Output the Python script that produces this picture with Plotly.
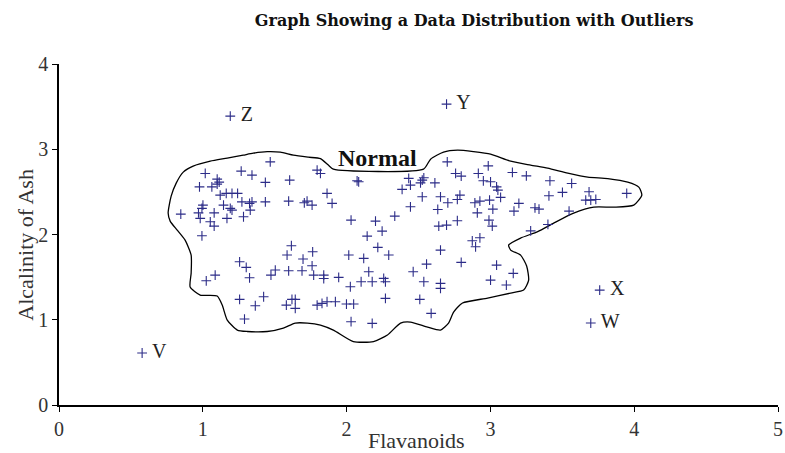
import plotly.graph_objects as go

# ---- data (Flavanoids vs Alcalinity of Ash) ----
flav = [1.469,1.017,1.100,1.114,1.100,1.267,1.342,1.435,1.604,1.795,1.818,2.073,0.977,1.063,
        1.121,1.163,1.203,1.242,1.864,1.272,1.325,1.342,1.435,1.597,1.706,1.725,1.760,1.899,
        1.001,0.994,1.144,1.191,1.203,1.330,0.847,0.970,1.079,0.982,1.168,1.283,1.052,1.079,
        2.031,0.994,1.616,1.586,1.764,1.697,2.015,1.256,1.302,1.760,1.504,1.474,1.597,1.690,
        1.771,1.841,1.841,1.945,1.024,1.086,1.325,2.026,1.256,1.365,1.423,1.581,1.620,1.643,
        1.643,1.795,1.829,1.864,1.922,1.999,2.049,1.290,2.031,
        2.700,2.985,2.084,2.432,2.444,2.386,2.526,2.537,2.514,2.614,2.758,2.797,2.916,2.951,
        3.001,3.043,3.052,3.071,3.153,3.250,3.414,3.565,3.407,3.501,3.686,3.663,3.698,3.733,
        3.948,2.526,2.653,2.704,2.770,2.788,2.444,2.634,2.892,2.927,2.994,2.909,3.017,3.164,
        3.198,3.310,3.338,3.547,2.335,2.201,2.641,2.695,2.770,2.990,3.013,3.400,3.280,2.143,
        2.247,2.874,2.927,2.897,2.217,2.653,2.119,2.293,2.556,2.797,3.043,2.463,2.154,2.101,
        2.178,2.258,2.270,2.537,2.653,2.653,3.001,3.111,3.159,2.270,2.509,2.588,2.178]
ash = [2.852,2.716,2.650,2.614,2.591,2.743,2.696,2.611,2.638,2.755,2.716,2.630,2.559,2.559,
       2.462,2.482,2.482,2.482,2.482,2.383,2.365,2.383,2.383,2.392,2.372,2.392,2.345,2.365,
       2.345,2.306,2.345,2.306,2.286,2.286,2.239,2.254,2.254,2.189,2.189,2.208,2.149,2.098,
       2.169,1.985,1.868,1.759,1.797,1.712,1.759,1.680,1.614,1.633,1.583,1.524,1.574,1.574,
       1.524,1.524,1.483,1.497,1.457,1.524,1.492,1.387,1.239,1.164,1.270,1.172,1.239,1.239,
       1.134,1.172,1.192,1.211,1.211,1.184,1.184,1.008,0.977,
       2.852,2.805,2.618,2.658,2.579,2.529,2.638,2.665,2.606,2.606,2.716,2.685,2.716,2.630,
       2.618,2.559,2.521,2.435,2.728,2.688,2.630,2.599,2.454,2.494,2.501,2.403,2.403,2.411,
       2.482,2.442,2.442,2.372,2.411,2.462,2.325,2.294,2.372,2.392,2.403,2.254,2.298,2.274,
       2.365,2.313,2.298,2.274,2.216,2.157,2.098,2.110,2.161,2.169,2.098,2.118,2.043,1.981,
       2.040,1.926,1.961,1.856,1.849,1.817,1.720,1.759,1.653,1.673,1.641,1.563,1.563,1.446,
       1.446,1.485,1.446,1.446,1.427,1.368,1.465,1.407,1.544,1.251,1.239,1.075,0.958]

outlier_names = ["V", "Z", "Y", "X", "W"]
outlier_flav = [0.578, 1.191, 2.695, 3.760, 3.698]
outlier_ash = [0.610, 3.388, 3.529, 1.348, 0.961]

# outline of the "Normal" region (data units)
region_x = [0.759,0.780,0.815,0.864,0.933,1.052,1.170,1.281,1.351,1.448,1.539,1.630,1.734,1.818,
            1.873,1.908,2.535,2.584,2.674,2.772,2.883,3.001,3.141,3.280,3.398,3.538,3.677,3.816,
            3.955,4.032,4.053,3.997,3.858,3.719,3.579,3.440,3.329,3.210,3.127,3.141,3.210,3.252,
            3.266,3.231,3.141,2.981,2.806,2.744,2.709,2.653,2.563,2.444,2.375,2.284,2.187,2.047,
            1.908,1.818,1.727,1.643,1.560,1.448,1.309,1.240,1.170,1.135,1.100,0.982,0.912,0.919,
            0.919,0.877,0.822,0.773,0.759]
region_y = [2.251,2.450,2.603,2.732,2.802,2.860,2.896,2.931,2.954,2.972,2.966,2.931,2.907,2.890,
            2.814,2.767,2.767,2.884,2.966,2.989,2.972,2.943,2.860,2.814,2.778,2.720,2.673,2.655,
            2.614,2.556,2.462,2.345,2.321,2.321,2.251,2.134,2.034,1.958,1.876,1.817,1.758,1.630,
            1.465,1.348,1.313,1.254,1.196,1.090,0.961,0.879,0.914,0.973,0.961,0.821,0.744,0.744,
            0.879,0.938,0.961,0.961,0.903,0.862,0.862,0.879,0.996,1.172,1.278,1.290,1.383,1.547,
            1.758,1.934,2.052,2.157,2.251]

x_ticks = [0, 1, 2, 3, 4, 5]
y_ticks = [0, 1, 2, 3, 4]

SERIF = "Liberation Serif, Times New Roman, serif"
PT_COLOR = "#2c2c88"

fig = go.Figure()
fig.add_trace(go.Scatter(x=region_x, y=region_y, mode="lines",
                         line=dict(color="black", width=1.3, shape="spline", smoothing=0.6),
                         hoverinfo="skip", showlegend=False))
fig.add_trace(go.Scatter(x=flav, y=ash, mode="markers",
                         marker=dict(symbol="cross-thin", size=7,
                                     line=dict(color=PT_COLOR, width=1.1)),
                         showlegend=False))
fig.add_trace(go.Scatter(x=outlier_flav, y=outlier_ash, mode="markers+text",
                         text=outlier_names, texttemplate=" %{text}",
                         textposition="middle right",
                         textfont=dict(family=SERIF, size=20, color="#222"),
                         marker=dict(symbol="cross-thin", size=7,
                                     line=dict(color=PT_COLOR, width=1.1)),
                         showlegend=False))

fig.add_annotation(x=2.214, y=2.9, xref="x", yref="y", text="<b>Normal</b>",
                   showarrow=False, font=dict(family=SERIF, size=24, color="#111"))
fig.add_annotation(x=0.497, y=-0.103, xref="paper", yref="paper", text="Flavanoids",
                   xanchor="center", yanchor="middle",
                   showarrow=False, font=dict(family=SERIF, size=22, color="#333"))
fig.add_annotation(x=-0.046, y=0.47, xref="paper", yref="paper", text="Alcalinity of Ash",
                   xanchor="center", yanchor="middle",
                   textangle=-90, showarrow=False, font=dict(family=SERIF, size=22, color="#333"))

axis_common = dict(showline=True, linecolor="black", linewidth=1.5, ticks="outside",
                   ticklen=5, tickwidth=1.2, tickcolor="black", showgrid=False, zeroline=False,
                   tickfont=dict(family=SERIF, size=20, color="#333"))
fig.update_xaxes(range=[0, 5], tickvals=x_ticks, **axis_common)
fig.update_yaxes(range=[0, 4], tickvals=y_ticks, **axis_common)

fig.update_layout(
    width=785, height=453,
    margin=dict(l=59, r=7, t=64, b=48, autoexpand=False),
    paper_bgcolor="white", plot_bgcolor="white",
    title=dict(text="<b>Graph Showing a Data Distribution with Outliers</b>",
               x=0.604, xanchor="center", y=0.954, yanchor="middle", yref="container",
               font=dict(family="DejaVu Serif, serif", size=16, color="#111")),
)

# remove the browser's default 8px page margin so the figure fills the window exactly
fig.write_html("out.html", config={"displayModeBar": False},
               post_script="document.body.style.margin='0px';")
